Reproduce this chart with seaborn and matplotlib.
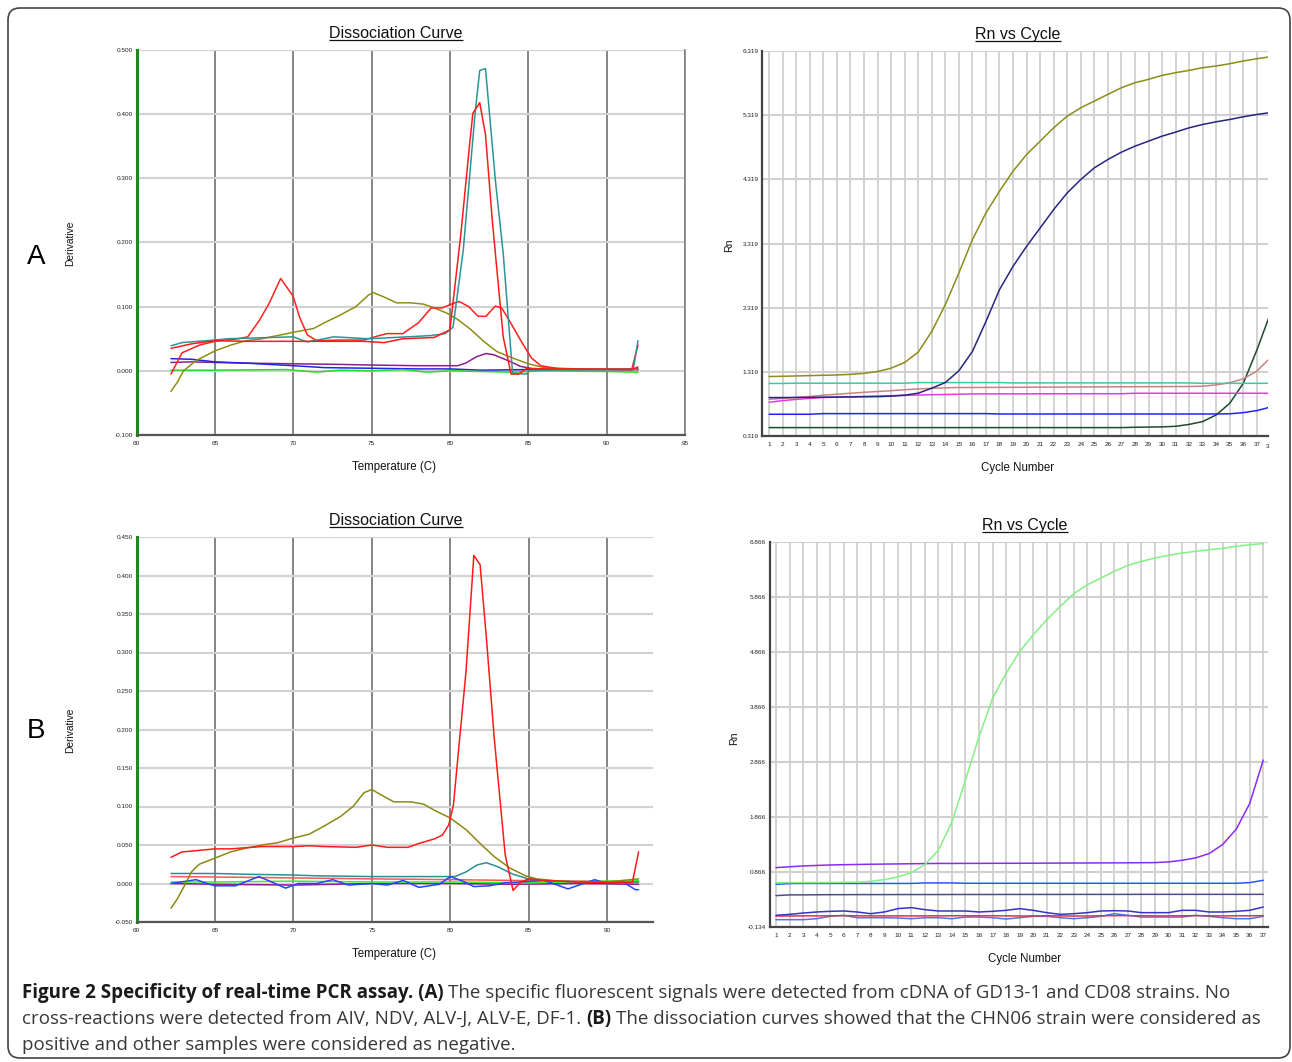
import numpy as np
import pandas as pd
import matplotlib
matplotlib.use("Agg")
import matplotlib.pyplot as plt
import seaborn as sns
from matplotlib.patches import FancyBboxPatch
from matplotlib.ticker import FormatStrFormatter

# ------------------------------------------------------------------ data
# Panel A - dissociation curve (temperature, derivative)
a_teal_t = [62.2, 62.9, 65.0, 65.8, 70.0, 70.9, 72.6, 74.8, 77.3, 78.8, 79.7, 80.2,
            80.85, 81.2, 81.6, 81.9, 82.27, 82.9, 83.4, 84.0, 84.9, 85.1, 88.0, 91.7, 92.0]
a_teal_v = [0.039, 0.044, 0.048, 0.050, 0.053, 0.045, 0.053, 0.050, 0.053, 0.055, 0.058, 0.068,
            0.188, 0.287, 0.400, 0.468, 0.471, 0.297, 0.183, -0.004, -0.005, 0.001, 0.002, 0.002, 0.047]

a_red1_t = [62.2, 63.5, 65.0, 67.0, 70.0, 72.0, 74.5, 75.8, 77.0, 79.0, 80.0, 80.7,
            81.2, 81.46, 81.9, 82.27, 82.7, 83.2, 83.4, 83.9, 84.4, 84.9, 86.0, 91.6, 92.0]
a_red1_v = [0.035, 0.042, 0.047, 0.046, 0.046, 0.046, 0.046, 0.044, 0.050, 0.052, 0.064, 0.214,
            0.339, 0.401, 0.418, 0.368, 0.235, 0.105, 0.053, -0.005, -0.005, 0.004, 0.003, 0.002, 0.006]

a_red2_t = [62.2, 62.9, 64.0, 65.0, 66.5, 67.1, 67.85, 68.46, 69.2, 70.0, 70.4, 70.9, 71.5,
            73.0, 74.5, 75.5, 76.0, 77.0, 78.0, 78.8, 79.5, 80.2, 80.6, 81.2, 81.8, 82.3,
            82.9, 83.3, 83.8, 84.5, 85.2, 85.8, 87.0, 91.6, 92.0]
a_red2_v = [-0.005, 0.028, 0.040, 0.046, 0.050, 0.053, 0.079, 0.105, 0.144, 0.116, 0.084, 0.056, 0.047,
            0.048, 0.048, 0.055, 0.058, 0.058, 0.075, 0.098, 0.098, 0.105, 0.108, 0.100, 0.085, 0.085,
            0.101, 0.098, 0.078, 0.048, 0.020, 0.008, 0.003, 0.002, 0.040]

a_olive_t = [62.2, 62.6, 63.0, 63.8, 65.0, 66.0, 67.0, 68.0, 69.0, 70.0, 71.3, 72.0, 73.0, 74.0,
             74.8, 75.1, 75.8, 76.6, 77.5, 78.3, 79.0, 79.8, 80.5, 81.3, 82.2, 83.0, 84.0, 85.0,
             86.0, 88.0, 92.0]
a_olive_v = [-0.032, -0.018, 0.000, 0.016, 0.031, 0.040, 0.047, 0.050, 0.055, 0.060, 0.066, 0.075,
             0.087, 0.100, 0.118, 0.122, 0.115, 0.106, 0.106, 0.104, 0.098, 0.090, 0.080, 0.065,
             0.045, 0.030, 0.020, 0.011, 0.005, 0.003, 0.002]

a_purple_t = [62.2, 63.5, 65.0, 67.0, 70.0, 73.0, 75.0, 78.0, 80.5, 81.0, 81.7, 82.3, 82.8,
              83.8, 84.5, 85.3, 88.0, 92.0]
a_purple_v = [0.013, 0.014, 0.013, 0.012, 0.011, 0.010, 0.009, 0.008, 0.008, 0.012, 0.022, 0.027,
              0.025, 0.015, 0.007, 0.003, 0.002, 0.003]

a_blue_t = [62.2, 63.5, 65.0, 67.0, 70.0, 72.0, 75.0, 78.0, 80.0, 82.0, 85.0, 88.0, 92.0]
a_blue_v = [0.019, 0.018, 0.014, 0.012, 0.008, 0.005, 0.004, 0.003, 0.003, 0.001, 0.002, 0.002, 0.002]

a_green_t = [62.2, 65.0, 69.5, 71.5, 73.0, 75.0, 77.0, 78.5, 80.0, 84.0, 86.0, 90.0, 92.0]
a_green_v = [0.001, 0.001, 0.002, -0.002, 0.001, 0.000, 0.002, -0.002, 0.000, -0.002, 0.000, -0.001, -0.002]

# Panel A - Rn vs cycle (cycles 1..38)
a_cycles = list(range(1, 39))
a_rn_olive = [1.246, 1.250, 1.255, 1.260, 1.265, 1.270, 1.280, 1.295, 1.324, 1.376, 1.465, 1.626,
              1.948, 2.365, 2.859, 3.379, 3.795, 4.134, 4.446, 4.706, 4.914, 5.122, 5.304, 5.434,
              5.539, 5.643, 5.747, 5.825, 5.877, 5.939, 5.981, 6.017, 6.059, 6.085, 6.121, 6.163,
              6.199, 6.230]
a_rn_navy = [0.918, 0.918, 0.920, 0.922, 0.924, 0.926, 0.928, 0.930, 0.932, 0.940, 0.955, 0.986,
             1.064, 1.152, 1.335, 1.636, 2.104, 2.600, 2.963, 3.275, 3.561, 3.848, 4.108, 4.316,
             4.498, 4.628, 4.742, 4.836, 4.914, 4.992, 5.055, 5.122, 5.174, 5.216, 5.252, 5.294,
             5.330, 5.360]
a_rn_mint = [1.138, 1.138, 1.142, 1.142, 1.142, 1.142, 1.142, 1.142, 1.142, 1.142, 1.142, 1.152,
             1.152, 1.152, 1.152, 1.152, 1.152, 1.152, 1.146, 1.146, 1.146, 1.146, 1.146, 1.146,
             1.146, 1.146, 1.146, 1.146, 1.146, 1.146, 1.146, 1.146, 1.140, 1.140, 1.140, 1.140,
             1.140, 1.140]
a_rn_rosy = [0.892, 0.905, 0.918, 0.935, 0.955, 0.970, 0.985, 1.000, 1.012, 1.025, 1.040, 1.052,
             1.062, 1.070, 1.075, 1.075, 1.076, 1.077, 1.078, 1.079, 1.080, 1.081, 1.082, 1.083,
             1.084, 1.085, 1.086, 1.087, 1.088, 1.088, 1.090, 1.090, 1.095, 1.115, 1.150, 1.210,
             1.330, 1.540]
a_rn_magenta = [0.845, 0.870, 0.890, 0.905, 0.918, 0.925, 0.930, 0.937, 0.942, 0.948, 0.952, 0.958,
                0.962, 0.966, 0.970, 0.975, 0.975, 0.976, 0.976, 0.976, 0.977, 0.977, 0.977, 0.978,
                0.978, 0.978, 0.978, 0.985, 0.985, 0.985, 0.985, 0.985, 0.985, 0.985, 0.985, 0.985,
                0.985, 0.985]
a_rn_blue = [0.658, 0.658, 0.658, 0.658, 0.668, 0.668, 0.668, 0.668, 0.668, 0.668, 0.668, 0.668,
             0.668, 0.668, 0.668, 0.668, 0.668, 0.662, 0.662, 0.662, 0.662, 0.662, 0.662, 0.662,
             0.662, 0.662, 0.662, 0.662, 0.662, 0.662, 0.662, 0.662, 0.662, 0.662, 0.665, 0.683,
             0.715, 0.770]
a_rn_dkgreen = [0.450, 0.450, 0.450, 0.450, 0.450, 0.450, 0.450, 0.450, 0.450, 0.450, 0.450, 0.450,
                0.450, 0.450, 0.450, 0.450, 0.450, 0.450, 0.450, 0.450, 0.450, 0.450, 0.450, 0.450,
                0.450, 0.450, 0.450, 0.455, 0.458, 0.461, 0.470, 0.500, 0.544, 0.648, 0.830, 1.142,
                1.660, 2.230]

# Panel B - dissociation curve
b_red_t = [62.2, 62.9, 64.0, 65.0, 66.0, 68.0, 70.0, 71.0, 72.0, 74.0, 75.0, 76.0, 77.3, 78.0,
           79.0, 79.5, 79.9, 80.2, 80.6, 81.0, 81.5, 81.9, 82.3, 82.8, 83.2, 83.5, 84.0, 84.5,
           85.0, 86.0, 88.0, 91.6, 92.0]
b_red_v = [0.034, 0.041, 0.043, 0.045, 0.045, 0.048, 0.048, 0.049, 0.048, 0.047, 0.050, 0.047,
           0.047, 0.052, 0.058, 0.063, 0.076, 0.102, 0.189, 0.275, 0.426, 0.414, 0.319, 0.189,
           0.102, 0.037, -0.009, 0.002, 0.006, 0.004, 0.002, 0.001, 0.041]

b_olive_t = [62.2, 62.6, 63.0, 63.5, 64.0, 65.0, 66.0, 67.0, 68.0, 69.0, 70.0, 71.0, 72.0, 73.0,
             73.8, 74.5, 75.0, 75.6, 76.4, 77.5, 78.3, 79.0, 80.0, 81.0, 82.0, 82.8, 83.8, 84.8,
             85.5, 87.0, 90.0, 92.0]
b_olive_v = [-0.032, -0.020, -0.005, 0.015, 0.025, 0.033, 0.041, 0.046, 0.050, 0.053, 0.059, 0.064,
             0.075, 0.087, 0.100, 0.118, 0.122, 0.115, 0.106, 0.106, 0.103, 0.095, 0.085, 0.070,
             0.050, 0.035, 0.020, 0.010, 0.006, 0.003, 0.002, 0.006]

b_teal_t = [62.2, 65.0, 67.0, 70.0, 71.5, 75.0, 78.0, 80.3, 81.0, 81.7, 82.3, 83.0, 84.0, 85.0,
            86.0, 88.0, 92.0]
b_teal_v = [0.013, 0.013, 0.012, 0.011, 0.010, 0.009, 0.009, 0.009, 0.015, 0.024, 0.027, 0.022,
            0.012, 0.006, 0.004, 0.002, 0.002]

b_blue_t = [62.2, 63.8, 64.5, 65.0, 66.3, 67.8, 68.5, 69.5, 70.3, 71.5, 72.5, 73.5, 75.0, 76.0,
            77.0, 78.0, 79.3, 80.0, 80.8, 81.5, 82.5, 83.5, 84.5, 86.0, 87.5, 88.5, 89.2, 90.0,
            91.0, 91.8, 92.0]
b_blue_v = [0.000, 0.005, 0.000, -0.003, -0.003, 0.009, 0.003, -0.006, 0.000, 0.000, 0.005, -0.002,
            0.000, -0.002, 0.004, -0.005, -0.001, 0.009, 0.003, -0.004, -0.003, 0.001, 0.002, 0.004,
            -0.007, 0.000, 0.005, 0.000, 0.002, -0.008, -0.008]

b_ltred_t = [62.2, 67.0, 75.0, 80.0, 84.0, 88.0, 92.0]
b_ltred_v = [0.009, 0.008, 0.006, 0.005, 0.004, 0.003, 0.002]

b_green_t = [62.2, 65.0, 70.0, 75.0, 80.0, 85.0, 92.0]
b_green_v = [0.002, 0.002, 0.003, 0.002, 0.002, 0.001, 0.004]

b_purple_t = [62.2, 65.0, 70.0, 75.0, 80.0, 84.0, 88.0, 92.0]
b_purple_v = [0.000, -0.001, -0.002, 0.000, 0.000, -0.001, 0.000, -0.001]

# Panel B - Rn vs cycle (cycles 1..37)
b_cycles = list(range(1, 38))
b_rn_ltgreen = [0.673, 0.673, 0.674, 0.675, 0.676, 0.678, 0.682, 0.697, 0.727, 0.776, 0.855, 1.000,
                1.262, 1.778, 2.537, 3.326, 4.024, 4.480, 4.874, 5.178, 5.451, 5.694, 5.925, 6.089,
                6.210, 6.332, 6.441, 6.514, 6.575, 6.623, 6.666, 6.696, 6.726, 6.750, 6.787, 6.817,
                6.836]
b_rn_purple = [0.946, 0.961, 0.976, 0.985, 0.994, 0.999, 1.003, 1.007, 1.010, 1.013, 1.016, 1.019,
               1.022, 1.022, 1.023, 1.023, 1.024, 1.025, 1.025, 1.026, 1.027, 1.028, 1.029, 1.030,
               1.031, 1.032, 1.033, 1.035, 1.037, 1.049, 1.079, 1.122, 1.201, 1.365, 1.644, 2.112,
               2.901]
b_rn_blue = [0.642, 0.655, 0.658, 0.658, 0.658, 0.658, 0.658, 0.658, 0.658, 0.658, 0.658, 0.667,
             0.667, 0.667, 0.661, 0.661, 0.661, 0.661, 0.661, 0.661, 0.661, 0.661, 0.661, 0.661,
             0.661, 0.661, 0.661, 0.661, 0.661, 0.661, 0.661, 0.661, 0.661, 0.661, 0.661, 0.673,
             0.715]
b_rn_slate = [0.436, 0.450, 0.450, 0.452, 0.454, 0.454, 0.455, 0.455, 0.455, 0.456, 0.456, 0.456,
              0.456, 0.457, 0.457, 0.457, 0.457, 0.458, 0.458, 0.458, 0.458, 0.458, 0.459, 0.459,
              0.459, 0.459, 0.459, 0.460, 0.460, 0.460, 0.460, 0.460, 0.460, 0.460, 0.460, 0.460,
              0.460]
b_rn_wavy = [0.078, 0.096, 0.120, 0.139, 0.151, 0.157, 0.139, 0.108, 0.139, 0.200, 0.218, 0.181,
             0.157, 0.157, 0.157, 0.139, 0.151, 0.169, 0.200, 0.169, 0.127, 0.096, 0.108, 0.127,
             0.157, 0.163, 0.157, 0.127, 0.127, 0.127, 0.169, 0.169, 0.139, 0.139, 0.151, 0.169,
             0.230]
b_rn_red = [0.066, 0.067, 0.068, 0.068, 0.070, 0.072, 0.070, 0.068, 0.068, 0.068, 0.067, 0.068,
            0.069, 0.070, 0.070, 0.070, 0.070, 0.068, 0.066, 0.068, 0.070, 0.068, 0.066, 0.066,
            0.070, 0.072, 0.072, 0.070, 0.068, 0.068, 0.070, 0.072, 0.070, 0.068, 0.070, 0.070,
            0.072]
b_rn_ltblue = [-0.001, -0.001, -0.001, 0.017, 0.060, 0.078, 0.035, 0.035, 0.035, 0.029, 0.017, 0.035,
               0.035, 0.017, 0.047, 0.047, 0.035, 0.011, 0.035, 0.060, 0.060, 0.035, 0.017, 0.035,
               0.060, 0.108, 0.078, 0.047, 0.047, 0.047, 0.047, 0.078, 0.060, 0.035, 0.017, 0.017,
               0.060]

dissoc_xticks_a = [60, 65, 70, 75, 80, 85, 90, 95]
dissoc_xticks_b = [60, 65, 70, 75, 80, 85, 90]
dissoc_yticks_a = [-0.1, 0.0, 0.1, 0.2, 0.3, 0.4, 0.5]
dissoc_yticks_b = [-0.05, 0.0, 0.05, 0.10, 0.15, 0.20, 0.25, 0.30, 0.35, 0.40, 0.45]
rn_yticks_a = [0.319, 1.319, 2.319, 3.319, 4.319, 5.319, 6.319]
rn_yticks_b = [-0.134, 0.866, 1.866, 2.866, 3.866, 4.866, 5.866, 6.866]

# ------------------------------------------------------------------ figure
sns.set_theme(style="white")
plt.rcParams['font.family'] = ['Liberation Sans', 'DejaVu Sans']

W, H = 1292, 1062
fig = plt.figure(figsize=(W / 100, H / 100), dpi=100)
fig.patch.set_facecolor('white')

bg = fig.add_axes([0, 0, 1, 1])
bg.set_xlim(0, W)
bg.set_ylim(H, 0)
bg.axis('off')
bg.add_patch(FancyBboxPatch((8, 8), 1282, 1050, boxstyle='round,pad=0,rounding_size=12',
                            fc='none', ec='#444444', lw=1.2))


def px_axes(l, t, r, b):
    ax = fig.add_axes([l / W, 1 - b / H, (r - l) / W, (b - t) / H])
    ax.set_facecolor('white')
    return ax


def draw_lines(ax, series, colors):
    frames = [pd.DataFrame({'x': x, 'y': y, 's': name}) for name, (x, y) in series.items()]
    df = pd.concat(frames, ignore_index=True)
    sns.lineplot(data=df, x='x', y='y', hue='s', hue_order=list(series), palette=colors,
                 estimator=None, sort=False, legend=False, lw=1.1, ax=ax)
    ax.set_xlabel('')
    ax.set_ylabel('')


def style_common(ax, xticks, yticks, yfmt, xfmt):
    ax.set_xticks(xticks)
    ax.set_yticks(yticks)
    ax.yaxis.set_major_formatter(FormatStrFormatter(yfmt))
    ax.xaxis.set_major_formatter(FormatStrFormatter(xfmt))
    ax.tick_params(axis='both', length=0, labelsize=4.6, colors='#222222')
    ax.tick_params(axis='y', pad=2.5)
    ax.tick_params(axis='x', pad=4)
    ax.set_axisbelow(True)


def style_dissoc(ax, xlim, ylim, xticks, yticks, right_spine):
    ax.set_xlim(*xlim)
    ax.set_ylim(*ylim)
    style_common(ax, xticks, yticks, '%.3f', '%d')
    ax.xaxis.grid(True, color='#707070', lw=1.2)
    ax.yaxis.grid(True, color='#d2d2d2', lw=1.6)
    ax.spines['left'].set_color('#1a8a1a')
    ax.spines['left'].set_linewidth(2.2)
    ax.spines['bottom'].set_color('#555555')
    ax.spines['bottom'].set_linewidth(1.6)
    ax.spines['top'].set_visible(False)
    if right_spine:
        ax.spines['right'].set_color('#808080')
        ax.spines['right'].set_linewidth(1.2)
    else:
        ax.spines['right'].set_visible(False)


def style_rn(ax, xlim, ylim, xticks, yticks):
    ax.set_xlim(*xlim)
    ax.set_ylim(*ylim)
    style_common(ax, xticks, yticks, '%.3f', '%d')
    ax.xaxis.grid(True, color='#d0d0d0', lw=1.3)
    ax.yaxis.grid(True, color='#d0d0d0', lw=1.5)
    for s in ('left', 'bottom'):
        ax.spines[s].set_color('#444444')
        ax.spines[s].set_linewidth(1.6)
    ax.spines['top'].set_visible(False)
    ax.spines['right'].set_visible(False)


# --- A, dissociation
ax1 = px_axes(136.5, 50, 685, 435)
draw_lines(ax1, {
    'purple': (a_purple_t, a_purple_v),
    'blue': (a_blue_t, a_blue_v),
    'green': (a_green_t, a_green_v),
    'olive': (a_olive_t, a_olive_v),
    'red2': (a_red2_t, a_red2_v),
    'teal': (a_teal_t, a_teal_v),
    'red1': (a_red1_t, a_red1_v),
}, {'purple': '#8b1f8b', 'blue': '#2323e6', 'green': '#22dd22', 'olive': '#8e8e12',
    'red2': '#ff2020', 'teal': '#2b9595', 'red1': '#ff1a1a'})
style_dissoc(ax1, (60, 95), (-0.1, 0.5), dissoc_xticks_a, dissoc_yticks_a, True)

# --- A, Rn vs cycle
ax2 = px_axes(762, 51, 1268, 436)
draw_lines(ax2, {
    'dkgreen': (a_cycles, a_rn_dkgreen),
    'blue': (a_cycles, a_rn_blue),
    'magenta': (a_cycles, a_rn_magenta),
    'rosy': (a_cycles, a_rn_rosy),
    'mint': (a_cycles, a_rn_mint),
    'navy': (a_cycles, a_rn_navy),
    'olive': (a_cycles, a_rn_olive),
}, {'dkgreen': '#1f4a2c', 'blue': '#2222ff', 'magenta': '#e03ce0', 'rosy': '#c88282',
    'mint': '#3cc8a0', 'navy': '#26267e', 'olive': '#8c8c1a'})
style_rn(ax2, (0.47, 37.82), (0.319, 6.319), list(range(1, 38)), rn_yticks_a)

# --- B, dissociation
ax3 = px_axes(136.5, 537, 652.7, 922)
draw_lines(ax3, {
    'purple': (b_purple_t, b_purple_v),
    'green': (b_green_t, b_green_v),
    'ltred': (b_ltred_t, b_ltred_v),
    'teal': (b_teal_t, b_teal_v),
    'blue': (b_blue_t, b_blue_v),
    'olive': (b_olive_t, b_olive_v),
    'red': (b_red_t, b_red_v),
}, {'purple': '#8b1f8b', 'green': '#30f030', 'ltred': '#ff5555', 'teal': '#2b9090',
    'blue': '#2545ff', 'olive': '#8a8a12', 'red': '#ff1a1a'})
style_dissoc(ax3, (60, 92.9), (-0.05, 0.45), dissoc_xticks_b, dissoc_yticks_b, False)

# --- B, Rn vs cycle
ax4 = px_axes(769.5, 542, 1268, 927)
draw_lines(ax4, {
    'ltblue': (b_cycles, b_rn_ltblue),
    'red': (b_cycles, b_rn_red),
    'wavy': (b_cycles, b_rn_wavy),
    'slate': (b_cycles, b_rn_slate),
    'blue': (b_cycles, b_rn_blue),
    'purple': (b_cycles, b_rn_purple),
    'ltgreen': (b_cycles, b_rn_ltgreen),
}, {'ltblue': '#4a78e6', 'red': '#e03050', 'wavy': '#3535c0', 'slate': '#4c4c8c',
    'blue': '#2a55ff', 'purple': '#8a2cf0', 'ltgreen': '#84f084'})
style_rn(ax4, (0.52, 37.35), (-0.134, 6.866), list(range(1, 38)), rn_yticks_b)

# ------------------------------------------------------------------ texts
txt = '#111111'
titles = [
    bg.text(396, 38, 'Dissociation Curve', ha='center', va='baseline', fontsize=11.5, color=txt),
    bg.text(1018, 39, 'Rn vs Cycle', ha='center', va='baseline', fontsize=11.5, color=txt),
    bg.text(396, 525, 'Dissociation Curve', ha='center', va='baseline', fontsize=11.5, color=txt),
    bg.text(1025, 530, 'Rn vs Cycle', ha='center', va='baseline', fontsize=11.5, color=txt),
]
bg.text(394, 467, 'Temperature (C)', ha='center', va='center', fontsize=8.3, color=txt)
bg.text(1018, 468, 'Cycle Number', ha='center', va='center', fontsize=8.3, color=txt)
bg.text(394, 954, 'Temperature (C)', ha='center', va='center', fontsize=8.3, color=txt)
bg.text(1025, 959, 'Cycle Number', ha='center', va='center', fontsize=8.3, color=txt)
bg.text(70, 243, 'Derivative', ha='center', va='center', rotation=90, fontsize=7.4, color=txt)
bg.text(70, 730, 'Derivative', ha='center', va='center', rotation=90, fontsize=7.4, color=txt)
bg.text(729, 245, 'Rn', ha='center', va='center', rotation=90, fontsize=7.6, color=txt)
bg.text(734, 738, 'Rn', ha='center', va='center', rotation=90, fontsize=7.6, color=txt)
bg.text(36, 257, 'A', ha='center', va='center', fontsize=20, color='black')
bg.text(36, 731, 'B', ha='center', va='center', fontsize=20, color='black')
bg.text(1269, 446, '3', ha='right', va='center', fontsize=4.6, color='#222222')

renderer = fig.canvas.get_renderer()
for t in titles:
    bb = t.get_window_extent(renderer)
    yb = t.get_position()[1] + 2.2
    bg.plot([bb.x0, bb.x1], [yb, yb], color=txt, lw=0.9, solid_capstyle='butt')

# caption with mixed weights
cap_family = ['Open Sans', 'DejaVu Sans']
cap_lines = [
    (998, [("Figure 2 Specificity of real-time PCR assay. (A)", True),
           ("The specific fluorescent signals were detected from cDNA of GD13-1 and CD08 strains. No", False)]),
    (1024, [("cross-reactions were detected from AIV, NDV, ALV-J, ALV-E, DF-1.", False),
            ("(B)", True),
            ("The dissociation curves showed that the CHN06 strain were considered as", False)]),
    (1050, [("positive and other samples were considered as negative.", False)]),
]


def layout_caption(size, keep):
    created = []
    widths = []
    for y, segs in cap_lines:
        x = 22.0
        for i, (s, bold) in enumerate(segs):
            w = 'bold' if bold else 'normal'
            t = bg.text(x, y, s, ha='left', va='baseline', fontsize=size, weight=w,
                        family=cap_family, color='#1a1a1a' if bold else '#383838')
            bb = t.get_window_extent(renderer)
            created.append(t)
            x += bb.width
            if i < len(segs) - 1:
                t1 = bg.text(0, 0, 'a a', fontsize=size, family=cap_family)
                t2 = bg.text(0, 0, 'aa', fontsize=size, family=cap_family)
                x += t1.get_window_extent(renderer).width - t2.get_window_extent(renderer).width
                t1.remove()
                t2.remove()
        widths.append(x - 22.0)
    if not keep:
        for t in created:
            t.remove()
    return widths


w0 = layout_caption(12.0, False)
size = 12.0 * 0.5 * (1210.0 / w0[0] + 1223.0 / w0[1])
layout_caption(size, True)

fig.savefig('out.png', dpi=100, facecolor='white')
